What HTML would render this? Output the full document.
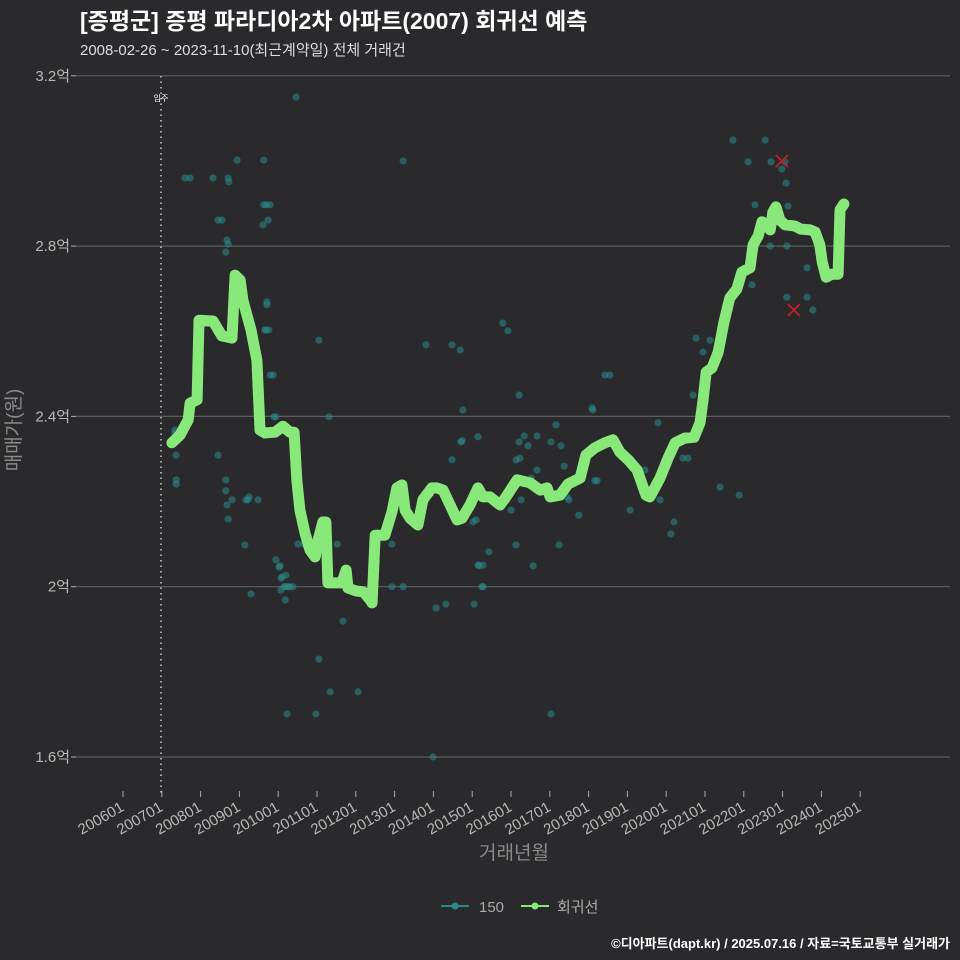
<!DOCTYPE html>
<html><head><meta charset="utf-8">
<style>
html,body{margin:0;padding:0;background:#2a2a2c;}
svg{display:block;font-family:"Liberation Sans","Noto Sans CJK KR",sans-serif;}
</style></head>
<body>
<svg id="chart" width="960" height="960" viewBox="0 0 960 960" xmlns="http://www.w3.org/2000/svg">
<rect width="960" height="960" fill="#2a2a2c"/>
<text x="80" y="29" fill="#ffffff" font-size="23" font-weight="bold">[증평군] 증평 파라디아2차 아파트(2007) 회귀선 예측</text>
<text x="80" y="55" fill="#dddddd" font-size="15">2008-02-26 ~ 2023-11-10(최근계약일) 전체 거래건</text>
<g id="grid"></g>
<g id="yaxis"></g>
<g id="xaxis"></g>
<line x1="161" y1="76" x2="161" y2="796" stroke="#cccccc" stroke-width="1.5" stroke-dasharray="1.5,4"/>
<text x="161" y="101" fill="#ffffff" font-size="8" text-anchor="middle">입주</text>
<g id="points"></g>
<g id="outliers"></g>
<path id="regline" fill="none" stroke="#88e97a" stroke-width="11" stroke-linejoin="round" stroke-linecap="round"/>
<text x="20" y="430" fill="#8a8a8a" font-size="19" text-anchor="middle" transform="rotate(-90 20 430)">매매가(원)</text>
<text x="514" y="859" fill="#8a8a8a" font-size="19" text-anchor="middle">거래년월</text>
<g>
<g>
<line x1="441" y1="906" x2="469" y2="906" stroke="#2a8a8a" stroke-width="2"/>
<circle cx="455" cy="906" r="3.5" fill="#2a8a8a"/>
<text x="479" y="912" fill="#aaaaaa" font-size="15">150</text>
</g>
<g>
<line x1="521" y1="906" x2="549" y2="906" stroke="#88e97a" stroke-width="2"/>
<circle cx="535" cy="906" r="3.5" fill="#88e97a"/>
<text x="557" y="912" fill="#aaaaaa" font-size="15">회귀선</text>
</g>
</g>
<text x="950" y="948" fill="#ffffff" font-size="13" font-weight="bold" text-anchor="end">©디아파트(dapt.kr) / 2025.07.16 / 자료=국토교통부 실거래가</text>
</svg>
<script>
const yTicks = [1.6, 2.0, 2.4, 2.8, 3.2];
const yTickLabels = ["1.6억", "2억", "2.4억", "2.8억", "3.2억"];
const xTickYears = [2006,2007,2008,2009,2010,2011,2012,2013,2014,2015,2016,2017,2018,2019,2020,2021,2022,2023,2024,2025];
const xTickLabels = ["200601","200701","200801","200901","201001","201101","201201","201301","201401","201501","201601","201701","201801","201901","202001","202101","202201","202301","202401","202501"];

const lineDates = [2007.26,2007.47,2007.68,2007.73,2007.91,2007.96,2008.32,2008.55,2008.81,2008.89,2009.02,2009.09,2009.30,2009.45,2009.53,2009.66,2009.92,2010.12,2010.30,2010.41,2010.48,2010.56,2010.69,2010.82,2010.95,2011.03,2011.15,2011.23,2011.28,2011.64,2011.75,2011.80,2012.01,2012.19,2012.37,2012.42,2012.50,2012.75,2012.93,2013.06,2013.19,2013.27,2013.40,2013.60,2013.73,2013.96,2014.09,2014.25,2014.43,2014.61,2014.74,2014.94,2015.15,2015.28,2015.46,2015.72,2015.85,2016.16,2016.49,2016.75,2016.93,2017.01,2017.26,2017.47,2017.78,2017.93,2018.16,2018.42,2018.63,2018.81,2019.02,2019.25,2019.48,2019.58,2019.84,2020.05,2020.23,2020.48,2020.72,2020.87,2020.95,2021.03,2021.18,2021.34,2021.49,2021.64,2021.82,2021.95,2022.16,2022.24,2022.37,2022.47,2022.60,2022.68,2022.75,2022.83,2022.93,2023.06,2023.32,2023.47,2023.71,2023.84,2023.96,2024.02,2024.12,2024.27,2024.43,2024.48,2024.58];
const lineValues = [2.338,2.356,2.392,2.431,2.439,2.626,2.624,2.589,2.584,2.732,2.720,2.673,2.603,2.532,2.368,2.361,2.363,2.377,2.363,2.363,2.251,2.180,2.126,2.086,2.070,2.110,2.152,2.152,2.009,2.009,2.039,1.997,1.990,1.988,1.969,1.962,2.121,2.121,2.175,2.232,2.239,2.180,2.161,2.145,2.204,2.232,2.232,2.227,2.192,2.157,2.161,2.192,2.232,2.211,2.211,2.192,2.208,2.251,2.244,2.227,2.232,2.211,2.215,2.241,2.255,2.309,2.326,2.338,2.345,2.316,2.298,2.274,2.215,2.211,2.255,2.302,2.338,2.349,2.351,2.385,2.439,2.504,2.514,2.551,2.622,2.678,2.699,2.739,2.749,2.803,2.824,2.857,2.850,2.838,2.880,2.892,2.861,2.850,2.847,2.840,2.838,2.833,2.803,2.763,2.727,2.734,2.734,2.885,2.899];

const pointDates = [2007.34,2007.34,2007.37,2007.37,2007.37,2007.60,2007.73,2008.32,2008.45,2008.45,2008.55,2008.71,2008.73,2008.68,2008.71,2008.65,2008.65,2008.65,2008.71,2008.81,2008.68,2008.94,2009.17,2009.22,2009.25,2009.30,2009.48,2009.14,2009.63,2009.63,2009.69,2009.74,2009.79,2009.61,2009.71,2009.69,2009.66,2009.76,2009.79,2009.94,2009.87,2009.89,2009.71,2009.94,2010.05,2010.02,2010.07,2010.15,2010.07,2010.18,2010.25,2010.20,2010.38,2010.30,2010.20,2010.10,2010.46,2010.51,2010.23,2010.66,2010.85,2010.97,2011.05,2011.05,2011.31,2011.34,2011.52,2011.67,2012.06,2012.93,2012.93,2013.22,2013.22,2013.55,2013.78,2013.81,2014.07,2014.32,2013.99,2014.48,2014.48,2014.69,2014.71,2014.74,2014.76,2015.02,2015.05,2015.15,2015.15,2015.18,2015.25,2015.28,2015.43,2015.10,2015.28,2015.79,2015.92,2016.00,2016.13,2016.21,2016.21,2016.13,2016.23,2016.26,2016.34,2016.44,2016.52,2016.57,2016.67,2016.67,2016.82,2017.03,2017.03,2017.16,2017.24,2017.29,2017.37,2017.44,2017.49,2017.75,2018.09,2018.11,2018.16,2018.22,2018.42,2018.55,2019.07,2019.45,2019.79,2019.84,2020.12,2020.20,2020.43,2020.56,2020.69,2020.77,2020.95,2021.13,2021.39,2021.72,2021.88,2022.11,2022.21,2022.29,2022.55,2022.68,2022.70,2022.98,2023.06,2023.09,2023.11,2023.14,2023.11,2023.78,2023.63,2023.63,2023.65];
const pointValues = [2.368,2.361,2.309,2.251,2.241,2.960,2.960,2.960,2.309,2.861,2.861,2.960,2.951,2.814,2.805,2.786,2.251,2.225,2.159,2.204,2.192,3.002,2.204,2.204,2.211,1.983,2.204,2.098,3.002,2.897,2.897,2.861,2.897,2.850,2.669,2.603,2.603,2.603,2.497,2.399,2.497,2.399,2.662,2.063,2.049,2.046,2.020,2.000,1.992,1.969,2.000,2.000,2.000,2.000,2.027,2.023,3.150,2.100,1.701,2.100,2.091,1.701,1.830,2.579,2.399,1.753,2.100,1.919,1.753,2.000,2.100,2.000,3.000,2.157,2.204,2.568,1.950,1.959,1.600,2.568,2.298,2.556,2.340,2.343,2.415,2.152,1.959,2.352,2.051,2.049,2.000,2.000,2.082,2.157,2.051,2.619,2.601,2.180,2.298,2.450,2.340,2.098,2.302,2.204,2.354,2.331,2.255,2.049,2.274,2.354,2.222,1.701,2.340,2.380,2.098,2.331,2.283,2.211,2.204,2.168,2.420,2.415,2.249,2.249,2.497,2.497,2.180,2.274,2.385,2.204,2.124,2.152,2.302,2.302,2.450,2.584,2.551,2.579,2.234,3.049,2.215,2.998,2.709,2.897,3.049,2.800,2.998,2.981,2.998,2.948,2.800,2.894,2.680,2.650,2.749,2.680];
const outlierDates = [2022.98, 2023.29];
const outlierValues = [3.000, 2.650];

const NS = "http://www.w3.org/2000/svg";
function xScale(yr){ return 123 + (yr - 2006) * 38.8; }
function yScale(v){ return 757 - (v - 1.6) * 425.75; }

const grid = document.getElementById('grid');
const yaxis = document.getElementById('yaxis');
yTicks.forEach((t,i)=>{
  const y = yScale(t);
  const gl = document.createElementNS(NS,'line');
  
  
  gl.setAttribute('x1',76); gl.setAttribute('x2',950);
  gl.setAttribute('y1',y); gl.setAttribute('y2',y);
  gl.setAttribute('stroke','#5c5c5e'); gl.setAttribute('stroke-width','1.2');
  grid.appendChild(gl);
  const tk = document.createElementNS(NS,'line');
  
  
  tk.setAttribute('x1',71); tk.setAttribute('x2',76);
  tk.setAttribute('y1',y); tk.setAttribute('y2',y);
  tk.setAttribute('stroke','#aaaaaa');
  yaxis.appendChild(tk);
  const tx = document.createElementNS(NS,'text');
  
  
  tx.setAttribute('x',70); tx.setAttribute('y',y+5);
  tx.setAttribute('text-anchor','end'); tx.setAttribute('fill','#b8b8b8');
  tx.setAttribute('font-size','15');
  tx.textContent = yTickLabels[i];
  yaxis.appendChild(tx);
});
const xaxis = document.getElementById('xaxis');
xTickYears.forEach((yr,i)=>{
  const x = xScale(yr);
  const tk = document.createElementNS(NS,'line');
  
  
  tk.setAttribute('x1',x); tk.setAttribute('x2',x);
  tk.setAttribute('y1',791); tk.setAttribute('y2',797);
  tk.setAttribute('stroke','#aaaaaa');
  xaxis.appendChild(tk);
  const tx = document.createElementNS(NS,'text');
  
  
  tx.setAttribute('x',x+2); tx.setAttribute('y',810);
  tx.setAttribute('text-anchor','end'); tx.setAttribute('fill','#b8b8b8');
  tx.setAttribute('font-size','15');
  tx.setAttribute('transform','rotate(-30 '+(x+2)+' 810)');
  tx.textContent = xTickLabels[i];
  xaxis.appendChild(tx);
});
const pts = document.getElementById('points');
const nPts = Math.min(pointDates.length, pointValues.length);
for (let i = 0; i < nPts; i++) {
  const c = document.createElementNS(NS,'circle');
  
  
  c.setAttribute('cx',xScale(pointDates[i])); c.setAttribute('cy',yScale(pointValues[i]));
  c.setAttribute('r','3.6'); c.setAttribute('fill','#2a8a8a'); c.setAttribute('fill-opacity','0.55');
  pts.appendChild(c);
}
const outs = document.getElementById('outliers');
outlierDates.forEach((d,i)=>{
  const x = xScale(d), y = yScale(outlierValues[i]);
  const p = document.createElementNS(NS,'path');
  
  
  p.setAttribute('d','M'+(x-6)+' '+(y-6)+'L'+(x+6)+' '+(y+6)+'M'+(x+6)+' '+(y-6)+'L'+(x-6)+' '+(y+6));
  p.setAttribute('stroke','#c0202a'); p.setAttribute('stroke-width','1.8');
  outs.appendChild(p);
});
let d = '';
lineDates.forEach((t,i)=>{ d += (i?'L':'M') + xScale(t).toFixed(1) + ' ' + yScale(lineValues[i]).toFixed(1); });
document.getElementById('regline').setAttribute('d', d);
</script>
</body></html>
